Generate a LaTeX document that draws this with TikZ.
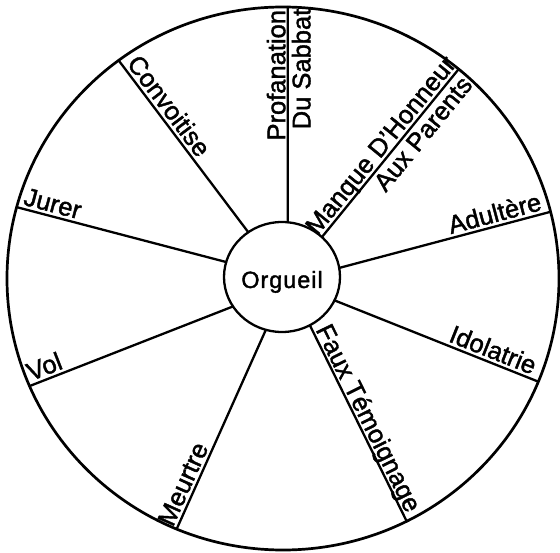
\documentclass[tikz,border=0pt]{standalone}
\usepackage{fontspec}
\setmainfont[FakeBold=1.6]{Liberation Sans}
\usetikzlibrary{shapes.geometric}
\begin{document}
\begin{tikzpicture}[x=1pt,y=1pt,
  spoke/.style={line width=2.3pt, line cap=round},
  lab/.style={font=\fontsize{25.5}{30}\selectfont, inner sep=0pt, sloped, allow upside down},
  ring/.style={ellipse, draw, inner sep=0pt, outer sep=0pt}
]
\useasboundingbox (0,0) rectangle (560,552);
\node[ring, line width=2.7pt, minimum width=552pt, minimum height=543pt] (rim) at (283,273.5) {};
\node[ring, line width=2.3pt, minimum width=116pt, minimum height=110pt,
      font=\fontsize{23.5}{28}\selectfont\addfontfeature{LetterSpace=4},
      text height=22pt, text depth=0pt] (hub) at (282,275) {Orgueil};
\draw[spoke] (hub.84.7) -- (rim.89.16)
  node[lab, pos=0.683, anchor=base, yshift=2.5pt] {Profanation}
  node[lab, pos=0.712, anchor=north, yshift=-3pt] {Du Sabbat};
\draw[spoke] (hub.45.7) -- (rim.50.88)
  node[lab, pos=0.5, anchor=base, yshift=4pt] {Manque D'Honneur}
  node[lab, pos=0.665, anchor=north, yshift=-3pt] {Aux Parents};
\draw[spoke] (hub.9.8) -- (rim.14.63)
  node[lab, pos=0.751, anchor=base, yshift=4pt] {Adultère};
\draw[spoke] (hub.-24.1) -- (rim.-22.92)
  node[lab, pos=0.755, anchor=base, yshift=4pt] {Idolatrie};
\draw[spoke] (hub.-60.6) -- (rim.-63.67)
  node[lab, pos=0.5, anchor=base, yshift=3pt] {Faux Témoignage};
\draw[spoke] (rim.247.34) -- (hub.-107.8)
  node[lab, pos=0.2, anchor=base, yshift=4pt] {Meurtre};
\draw[spoke] (rim.203.07) -- (hub.211.8)
  node[lab, pos=0.095, anchor=base, yshift=4pt] {Vol};
\draw[spoke] (rim.165) -- (hub.165.7)
  node[lab, pos=0.157, anchor=base, yshift=4pt] {Jurer};
\draw[spoke] (rim.127.96) -- (hub.127.1)
  node[lab, pos=0.31, anchor=base, yshift=4pt] {Convoitise};
\end{tikzpicture}
\end{document}
